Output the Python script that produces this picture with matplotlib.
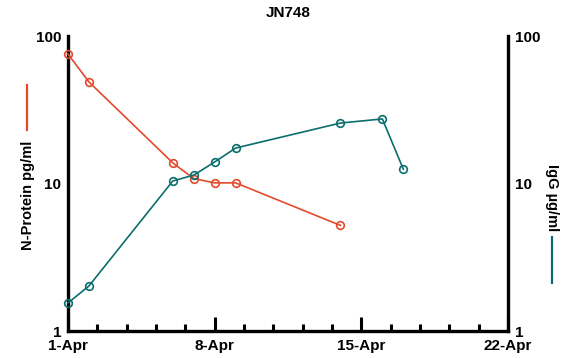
import numpy as np
import matplotlib
matplotlib.use('Agg')
import matplotlib.pyplot as plt
from matplotlib.lines import Line2D
from matplotlib.ticker import FixedLocator, NullFormatter

plt.rcParams['font.family'] = ['Liberation Sans', 'DejaVu Sans']
plt.rcParams['font.weight'] = 'bold'

# days since 1-Apr
nprot_days = [0, 1, 5, 6, 7, 8, 13]
nprot_vals = [75.5, 48.8, 13.8, 10.8, 10.1, 10.1, 5.2]
igg_days = [0, 1, 5, 6, 7, 8, 13, 15, 16]
igg_vals = [1.55, 2.02, 10.4, 11.4, 14.0, 17.4, 25.7, 27.4, 12.5]
date_ticks = [0, 7, 14, 21]
date_labels = ['1-Apr', '8-Apr', '15-Apr', '22-Apr']

red = '#e4492b'
teal = '#0b6e6e'

fig = plt.figure(figsize=(5.69, 3.58), dpi=100)
ax = fig.add_axes([0.1195, 0.0754, 0.7735, 0.824])
ax2 = ax.twinx()

ax.plot(nprot_days, nprot_vals, color=red, lw=1.2, marker='o', ms=5.5,
        mfc='none', mec=red, mew=1.2, clip_on=False, zorder=3)
ax2.plot(igg_days, igg_vals, color=teal, lw=1.2, marker='o', ms=5.5,
         mfc='none', mec=teal, mew=1.2, clip_on=False, zorder=3)

for a in (ax, ax2):
    a.set_yscale('log')
    a.set_ylim(1, 100)
    a.set_xlim(0, 21)
    a.set_yticks([1, 10, 100])
    a.set_yticklabels(['1', '10', '100'])
    a.yaxis.set_minor_formatter(NullFormatter())
    a.tick_params(axis='y', which='both', length=0, labelsize=11, pad=5)
    for s in a.spines.values():
        s.set_linewidth(2.4)
    a.spines['top'].set_visible(False)

ax.spines['right'].set_visible(False)
ax2.spines['left'].set_visible(False)
ax2.spines['bottom'].set_visible(False)

ax.set_xticks(date_ticks)
ax.set_xticklabels(date_labels)
# five minor intervals per week
ax.xaxis.set_minor_locator(FixedLocator(np.arange(0, 21.01, 1.4)))
ax.tick_params(axis='x', which='major', direction='in', length=10, width=2.2,
               labelsize=11, pad=6)
ax.tick_params(axis='x', which='minor', direction='in', length=5, width=2.2)

ax.set_title('JN748', fontsize=11, fontweight='bold', pad=14)

fig.text(0.049, 0.455, 'N-Protein pg/ml', rotation=90, ha='center', va='center',
         fontsize=10.5, fontweight='bold')
fig.text(0.97, 0.447, 'IgG µg/ml', rotation=270, ha='center', va='center',
         fontsize=10.5, fontweight='bold')
fig.add_artist(Line2D([0.047, 0.047], [1 - 85 / 358, 1 - 130 / 358],
                      color=red, lw=1.6, transform=fig.transFigure))
fig.add_artist(Line2D([0.97, 0.97], [1 - 237 / 358, 1 - 283 / 358],
                      color=teal, lw=1.6, transform=fig.transFigure))

fig.savefig('out.png', dpi=100)
